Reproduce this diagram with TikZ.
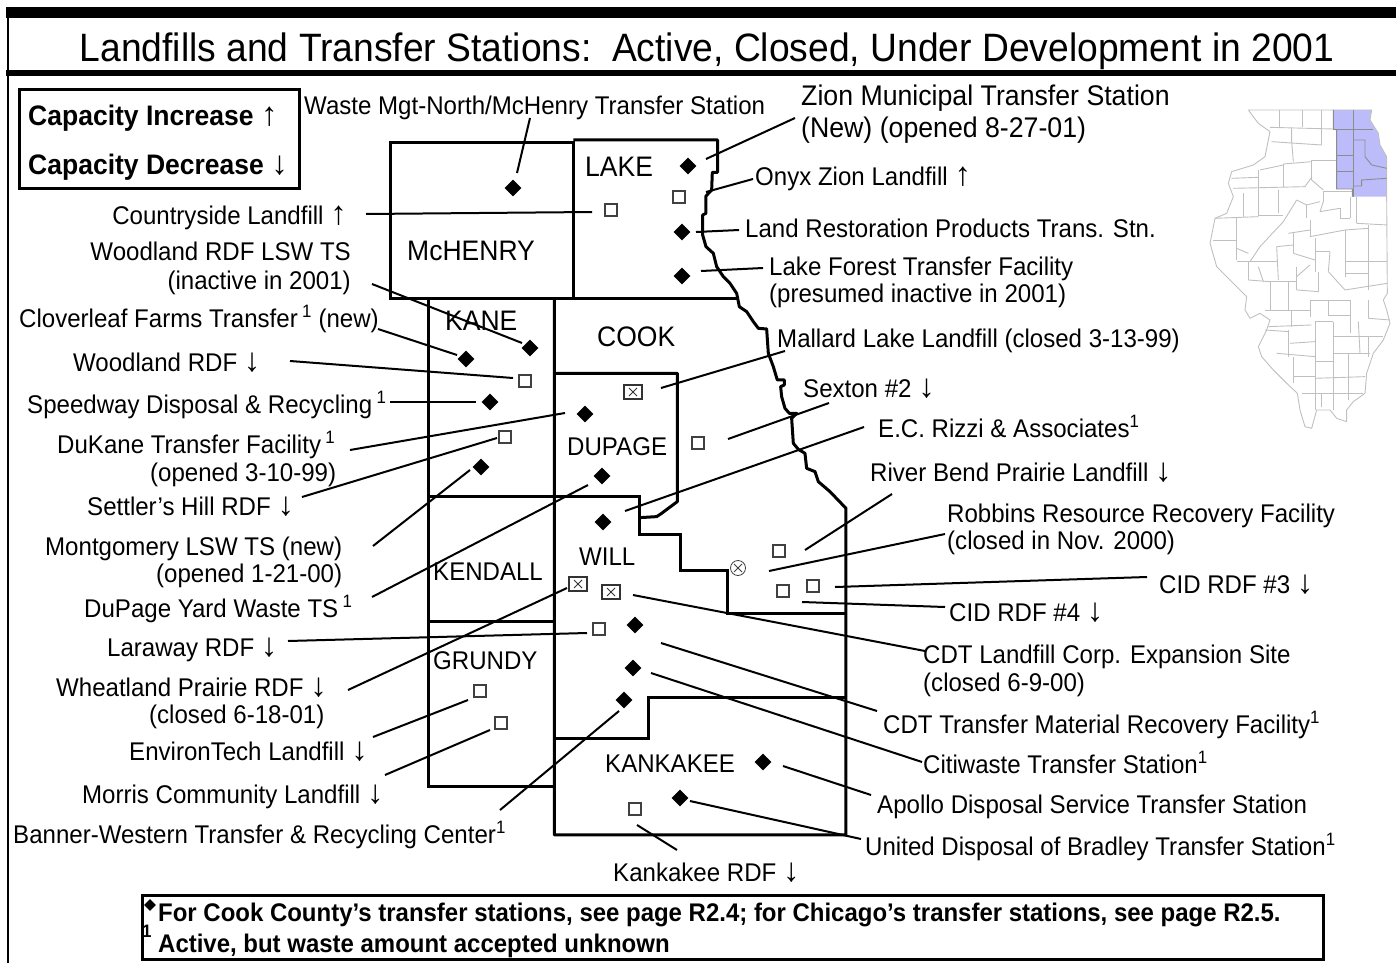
\documentclass[tikz,border=0pt]{standalone}
\usepackage{fontspec}
\setmainfont[FakeStretch=0.94]{Liberation Sans}
\newfontfamily\arrf{Liberation Serif}
\usetikzlibrary{shapes.geometric}
\definecolor{blueco}{HTML}{BCBCFA}
\definecolor{cntyline}{HTML}{C0C0C0}
\tikzset{
 lab/.style={inner sep=0pt,anchor=base west,yshift=-1pt,font=\fontsize{25.6}{30}\selectfont},
 labr/.style={lab,anchor=base east},
 labz/.style={lab,font=\fontsize{28.4}{32}\selectfont},
 cty/.style={inner sep=0pt,anchor=base west,font=\fontsize{25.6}{30}\selectfont},
 ctyb/.style={cty,font=\fontsize{28.2}{32}\selectfont},
 dia/.style={diamond,fill=black,inner sep=0pt,minimum size=17pt},
 sqr/.style={rectangle,draw=black!75,fill=white,line width=1.4pt,inner sep=0pt,minimum size=12pt},
 xbox/.style={rectangle,draw=black!80,fill=white,line width=1.2pt,inner sep=0pt,minimum width=18pt,minimum height=14pt,
   path picture={\draw[line width=1pt] ([shift={(-4pt,-4pt)}]path picture bounding box.center)--([shift={(4pt,4pt)}]path picture bounding box.center);
   \draw[line width=1pt] ([shift={(-4pt,4pt)}]path picture bounding box.center)--([shift={(4pt,-4pt)}]path picture bounding box.center);}},
 xcirc/.style={circle,draw=black!75,fill=white,line width=.8pt,inner sep=0pt,minimum size=15pt,
   path picture={\draw[line width=.9pt] ([shift={(-4pt,-4pt)}]path picture bounding box.center)--([shift={(4pt,4pt)}]path picture bounding box.center);
   \draw[line width=.9pt] ([shift={(-4pt,4pt)}]path picture bounding box.center)--([shift={(4pt,-4pt)}]path picture bounding box.center);}},
 map/.style={line width=3pt,line join=miter,draw=black},
 leader/.style={line width=2pt,draw=black},
 frame/.style={draw=black},
 cnty/.style={draw=cntyline,line width=.9pt},
 cntyb/.style={draw=black!45,line width=.9pt},
 boldlab/.style={inner sep=0pt,anchor=base west,yshift=-1pt,font=\fontsize{28.2}{32}\selectfont\bfseries},
 footlab/.style={inner sep=0pt,anchor=base west,font=\fontsize{25.5}{30}\selectfont\bfseries}
}
\newcommand{\U}{{\arrf\mdseries\fontsize{33}{33}\selectfont ↑}}
\newcommand{\D}{{\arrf\mdseries\fontsize{33}{33}\selectfont ↓}}
\newcommand{\conn}[3]{\coordinate (#1a) at (#2);\coordinate (#1b) at (#3);\draw[leader] (#1a)--(#1b);}
\begin{document}
\begin{tikzpicture}[x=1pt,y=-1pt]
\useasboundingbox (0,0) rectangle (1396,963);
% frame
\fill[black] (6,7) rectangle (1396,18);
\draw[frame,line width=6pt] (6,73)--(1396,73);
\draw[frame,line width=2pt] (8,7)--(8,963);
\node[inner sep=0pt,anchor=base,font=\fontsize{39.6}{44}\selectfont] (title) at (707,62) {Landfills and Transfer Stations:\ \ Active, Closed, Under Development in 2001};
% legend
\node[draw=black,line width=3pt,inner sep=0pt,minimum width=280pt,minimum height=99pt,anchor=north west] (legend) at (18,88) {};
\node[boldlab] (capinc) at (28,124) {Capacity Increase \U};
\node[boldlab] (capdec) at (28,173) {Capacity Decrease \D};
% Illinois locator
\begin{scope}[shift={(1190,90)},x=0.3333pt,y=-0.3333pt]
\fill[blueco] (430,60)--(545,60)--(540,90)--(565,130)--(570,165)--(590,200)--(590,320)--(487,320)--(487,297)--(440,297)--(440,120)--(430,120)--cycle;
\draw[cnty,line join=round] (175,60)--(545,60)--(540,90)--(565,130)--(570,165)--(590,200)--(590,320)--(592,610)--(580,630)--(590,660)--(600,700)--(580,750)--(550,790)--(530,850)--(525,910)--(490,935)--(470,960)--(470,995)--(440,985)--(420,960)--(380,960)--(365,1015)--(345,1010)--(330,960)--(322,910)--(290,880)--(250,840)--(215,800)--(205,770)--(230,720)--(240,690)--(210,670)--(180,685)--(165,660)--(170,620)--(120,570)--(80,530)--(60,460)--(75,385)--(110,370)--(130,320)--(115,280)--(125,245)--(190,225)--(225,200)--(240,125)--(205,100)--cycle;
\foreach \p in {
 {(267,60)--(267,110)},{(337,60)--(337,110)},{(395,60)--(395,115)},{(240,112)--(430,117)},
 {(305,115)--(305,155)--(310,215)},{(395,115)--(395,165)},{(245,155)--(395,165)},
 {(365,210)--(440,210)},{(365,210)--(365,270)},{(280,222)--(365,215)},{(280,222)--(280,290)},
 {(210,240)--(280,225)},{(205,240)--(205,375)},{(125,265)--(205,262)},{(130,295)--(345,290)},
 {(345,290)--(365,262)},{(365,270)--(400,300)},{(400,305)--(490,305)},{(400,305)--(400,335)},
 {(480,320)--(480,385)},{(450,385)--(480,385)},{(450,355)--(450,385)},{(400,335)--(390,365)},{(390,365)--(450,355)},
 {(350,345)--(390,335)},{(350,345)--(350,385)},{(320,330)--(350,345)},{(320,330)--(280,395)},{(265,300)--(265,370)},
 {(205,375)--(280,375)},{(160,310)--(160,380)},{(140,380)--(140,510)},{(75,385)--(205,380)},
 {(500,320)--(500,400)},{(500,400)--(592,405)},{(535,405)--(535,600)},{(360,390)--(360,440)},{(360,440)--(465,420)},
 {(465,420)--(465,560)},{(465,420)--(535,415)},{(375,445)--(375,545)},{(375,485)--(420,485)},{(420,485)--(415,545)},
 {(465,515)--(592,515)},{(465,550)--(535,550)},{(465,600)--(592,580)},{(415,545)--(465,600)},
 {(280,395)--(210,470)},{(210,470)--(180,515)},{(295,430)--(360,420)},{(260,470)--(310,465)},{(260,470)--(265,570)},
 {(310,430)--(310,490)},{(310,490)--(375,510)},{(140,475)--(175,490)},{(140,515)--(260,515)},{(70,450)--(140,450)},
 {(175,515)--(175,570)},{(175,570)--(240,575)},{(205,530)--(220,575)},{(240,575)--(240,660)},{(295,575)--(295,660)},
 {(240,575)--(320,575)},{(320,600)--(385,605)},{(320,530)--(320,600)},{(320,560)--(360,525)},{(385,545)--(385,605)},
 {(360,630)--(360,680)},{(360,630)--(480,630)},{(415,630)--(415,675)},{(480,630)--(480,730)},{(535,630)--(535,685)},
 {(415,675)--(480,675)},{(535,685)--(600,690)},{(225,660)--(360,660)},{(305,660)--(305,710)},{(235,710)--(365,705)},
 {(375,695)--(375,960)},{(375,695)--(430,695)},{(430,695)--(430,960)},{(295,720)--(295,800)},{(300,760)--(375,755)},{(430,740)--(580,740)},
 {(505,695)--(510,790)},{(535,740)--(535,800)},{(225,720)--(295,725)},{(260,790)--(375,800)},{(310,800)--(310,880)},
 {(310,860)--(375,860)},{(375,815)--(430,815)},{(375,865)--(525,860)},{(475,790)--(475,930)},{(430,790)--(540,790)},{(335,910)--(520,910)},{(395,910)--(395,950)}
}{\draw[cnty] \p;}
\foreach \p in {
 {(490,60)--(490,320)},{(430,117)--(550,117)},{(440,195)--(490,195)},{(440,245)--(490,245)},
 {(490,150)--(525,150)--(525,200)--(545,225)--(590,235)},{(490,288)--(515,288)--(515,270)--(590,265)}
}{\draw[cntyb] \p;}
\draw[cntyb] (430,60)--(430,117)--(440,120)--(440,297)--(487,297)--(487,320);
\end{scope}
% county lines
\draw[map] (390,142) rectangle (573,298);
\begin{scope}[shift={(540,130)},x=0.3333pt,y=-0.3333pt]
\draw[map,line join=round] (100,30)--(533,30)--(533,127)--(517,127)--(515,180)--(498,198)--(498,250)--(488,255)--(488,315)--(498,350)--(520,370)--(530,410)--(550,440)--(570,460)--(590,490)--(598,530)--(620,545)--(640,575)--(655,595)--(680,597)--(685,670)--(700,710)--(712,750)--(733,750)--(733,765)--(722,770)--(725,800)--(735,835)--(748,850)--(770,850)--(755,865)--(760,940)--(775,958)--(795,970)--(800,1015)--(825,1025)--(835,1055)--(870,1085)--(918,1135)--(918,2115)--(43,2115)--(43,505);
\draw[map] (100,505)--(590,505);
\draw[map] (-336,505)--(-336,1971)--(43,1971);
\draw[map,line join=round] (43,730)--(412,730)--(412,1115)--(385,1135)--(365,1150)--(350,1160)--(300,1163);
\draw[map] (-336,1100)--(300,1100)--(300,1215)--(422,1215)--(422,1323)--(563,1323)--(563,1450)--(918,1450);
\draw[map] (-336,1476)--(43,1476);
\draw[map] (918,1702)--(325,1702)--(325,1827)--(43,1827);
\end{scope}
% county names
\node[ctyb] (nmch) at (407,260) {McHENRY};
\node[ctyb] (nlake) at (585,176) {LAKE};
\node[ctyb] (nkane) at (445,330) {KANE};
\node[ctyb] (ncook) at (597,346) {COOK};
\node[cty] (ndup) at (567,455) {DUPAGE};
\node[cty] (nwill) at (579,565) {WILL};
\node[cty] (nkend) at (433,580) {KENDALL};
\node[cty] (ngru) at (433,669) {GRUNDY};
\node[cty] (nkan) at (605,772) {KANKAKEE};
% markers
\foreach \n/\x/\y in {d1/513/188,d2/688/166,d3/682/232,d4/682/276,d5/585/414,d6/602/476,d7/603/522,d8/635/625,d9/633/668,d10/624/700,d11/763/762,d12/680/798,d13/466/359,d14/530/348,d15/490/402,d16/481/467}
 \node[dia] (\n) at (\x,\y) {};
\foreach \n/\x/\y in {s1/611/210,s2/679/197,s3/698/443,s4/779/551,s5/783/591,s6/813/586,s7/599/629,s8/635/809,s9/525/381,s10/505/437,s11/480/691,s12/501/723}
 \node[sqr] (\n) at (\x,\y) {};
\node[xbox] (x1) at (633,392) {};
\node[xbox] (x2) at (578,584) {};
\node[xbox] (x3) at (611,592) {};
\node[xcirc] (c1) at (738,568) {};
% labels right side
\node[lab] (lwaste) at (304,113) {Waste Mgt-North/McHenry Transfer Station};
\node[labz] (lzion) at (801,105) {Zion Municipal Transfer Station};
\node[labz] (lzion2) at (801,136) {(New) (opened 8-27-01)};
\node[lab] (lonyx) at (755,184) {Onyx Zion Landfill \U};
\node[lab] (lland) at (745,236) {Land Restoration Products Trans. Stn.};
\node[lab] (llake) at (769,274) {Lake Forest Transfer Facility};
\node[lab] (llake2) at (769,301) {(presumed inactive in 2001)};
\node[lab] (lmal) at (777,346) {Mallard Lake Landfill (closed 3-13-99)};
\node[lab] (lsex) at (803,396) {Sexton \#2 \D};
\node[lab] (lecr) at (878,436) {E.C. Rizzi \& Associates\textsuperscript{1}};
\node[lab] (lriv) at (870,480) {River Bend Prairie Landfill \D};
\node[lab] (lrob) at (947,521) {Robbins Resource Recovery Facility};
\node[lab] (lrob2) at (947,548) {(closed in Nov. 2000)};
\node[lab] (lc3) at (1159,592) {CID RDF \#3 \D};
\node[lab] (lc4) at (949,620) {CID RDF \#4 \D};
\node[lab] (lcdt) at (923,662) {CDT Landfill Corp. Expansion Site};
\node[lab] (lcdt2) at (923,690) {(closed 6-9-00)};
\node[lab] (lcdtm) at (883,732) {CDT Transfer Material Recovery Facility\textsuperscript{1}};
\node[lab] (lcit) at (923,772) {Citiwaste Transfer Station\textsuperscript{1}};
\node[lab] (lapo) at (877,812) {Apollo Disposal Service Transfer Station};
\node[lab] (luni) at (865,854) {United Disposal of Bradley Transfer Station\textsuperscript{1}};
\node[lab] (lkan) at (613,880) {Kankakee RDF \D};
% labels left side
\node[labr] (lcou) at (347,223) {Countryside Landfill \U};
\node[labr] (lwoo) at (351,259) {Woodland RDF LSW TS};
\node[labr] (lwoo2) at (351,288) {(inactive in 2001)};
\node[lab] (lclo) at (19,326) {Cloverleaf Farms Transfer\,\textsuperscript{1} (new)};
\node[lab] (lwr) at (73,370) {Woodland RDF \D};
\node[lab] (lspe) at (27,412) {Speedway Disposal \& Recycling\,\textsuperscript{1}};
\node[lab] (ldk) at (57,452) {DuKane Transfer Facility\,\textsuperscript{1}};
\node[lab] (ldk2) at (150,480) {(opened 3-10-99)};
\node[lab] (lset) at (87,514) {Settler’s Hill RDF \D};
\node[lab] (lmon) at (45,554) {Montgomery LSW TS (new)};
\node[lab] (lmon2) at (156,581) {(opened 1-21-00)};
\node[lab] (ldup) at (84,616) {DuPage Yard Waste TS\,\textsuperscript{1}};
\node[lab] (llar) at (107,655) {Laraway RDF \D};
\node[lab] (lwhe) at (56,695) {Wheatland Prairie RDF \D};
\node[lab] (lwhe2) at (149,722) {(closed 6-18-01)};
\node[lab] (lenv) at (129,759) {EnvironTech Landfill \D};
\node[lab] (lmor) at (82,802) {Morris Community Landfill \D};
\node[lab] (lban) at (13,842) {Banner-Western Transfer \& Recycling Center\textsuperscript{1}};
% leaders
\conn{k1}{530,118}{517,173}
\conn{k2}{706,159}{795,118}
\conn{k3}{706,192}{753,179}
\conn{k4}{696,232}{739,230}
\conn{k5}{701,271}{763,268}
\conn{k6}{661,388}{785,351}
\conn{k7}{728,439}{829,403}
\conn{k8}{625,511}{864,427}
\conn{k9}{805,550}{892,494}
\conn{k10}{769,571}{945,534}
\conn{k11}{835,587}{1147,577}
\conn{k12}{802,602}{945,607}
\conn{k13}{633,595}{925,651}
\conn{k14}{661,643}{877,711}
\conn{k15}{651,673}{922,762}
\conn{k16}{783,766}{871,795}
\conn{k17}{690,801}{861,839}
\conn{k18}{637,825}{677,850}
\conn{k19}{619,711}{500,810}
\conn{k20}{567,588}{348,690}
\conn{k21}{587,633}{288,641}
\conn{k22}{468,700}{373,737}
\conn{k23}{490,730}{385,775}
\conn{k24}{366,214}{592,212}
\conn{k25}{372,284}{522,343}
\conn{k26}{378,329}{457,355}
\conn{k27}{290,361}{513,378}
\conn{k28}{390,402}{476,402}
\conn{k29}{350,450}{565,413}
\conn{k30}{302,497}{497,438}
\conn{k31}{373,546}{470,470}
\conn{k32}{372,597}{588,485}
% footer
\node[draw=black,line width=3pt,inner sep=0pt,minimum width=1181pt,minimum height=64pt,anchor=north west] (foot) at (141,894) {};
\node[dia,minimum size=12pt] (fd) at (150,905) {};
\node[footlab] (f1) at (158,921) {For Cook County’s transfer stations, see page R2.4; for Chicago’s transfer stations, see page R2.5.};
\node[inner sep=0pt,anchor=base west,font=\fontsize{18}{20}\selectfont\bfseries] (f0) at (142,937) {1};
\node[footlab] (f2) at (158,952) {Active, but waste amount accepted unknown};
\end{tikzpicture}
\end{document}
